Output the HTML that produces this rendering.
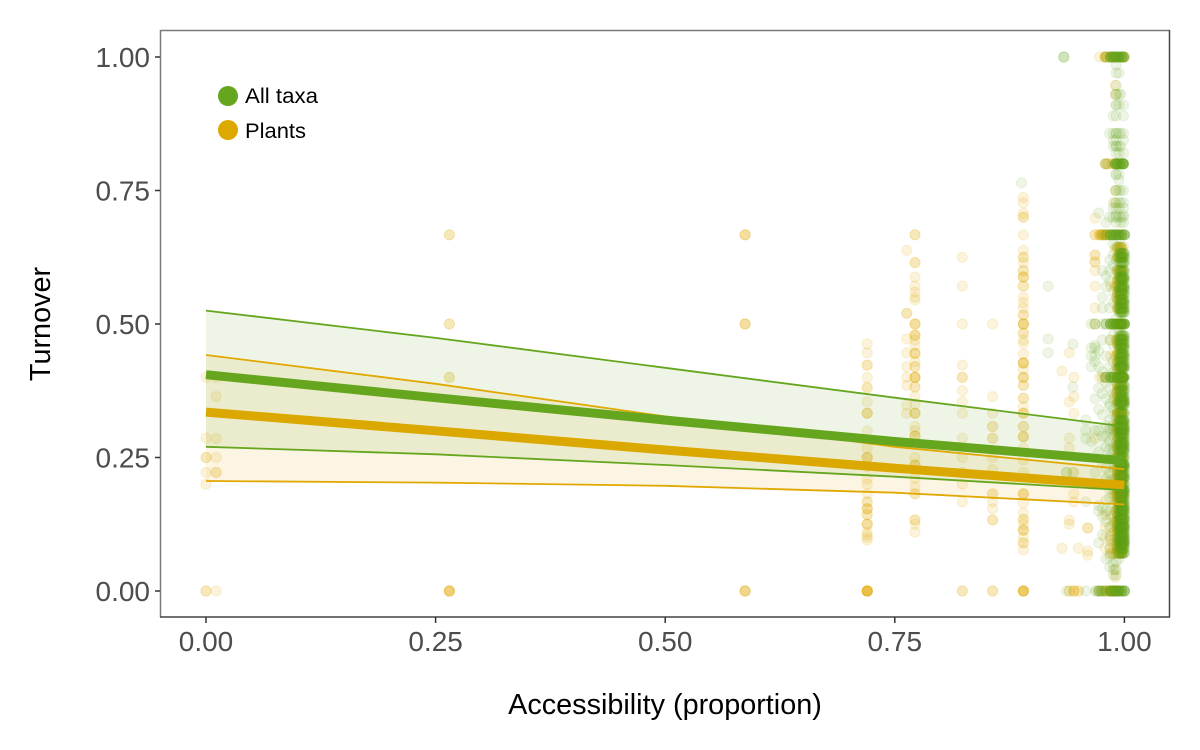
<!DOCTYPE html>
<html lang="en">
<head>
<meta charset="utf-8">
<title>Turnover vs Accessibility</title>
<style>
html,body{margin:0;padding:0;background:#fff}
svg{display:block;font-family:"Liberation Sans",Arial,sans-serif}
</style>
</head>
<body>
<svg id="chart" xmlns="http://www.w3.org/2000/svg" width="1200" height="750" viewBox="0 0 1200 750">
  <rect x="0" y="0" width="1200" height="750" fill="#fff"/>
  <g id="points-plants"></g>
  <g id="points-all"></g>
  <g id="fits"></g>
  <line x1="160.5" y1="30.5" x2="1169.5" y2="30.5" stroke="#7a7a7a" stroke-width="1.5"/>
  <line x1="160.5" y1="30" x2="160.5" y2="617" stroke="#7a7a7a" stroke-width="1.5"/>
  <line x1="1169.5" y1="30" x2="1169.5" y2="617" stroke="#444" stroke-width="1.5"/>
  <line x1="160" y1="617" x2="1170" y2="617" stroke="#444" stroke-width="1.5"/>
  <g id="x-axis"></g>
  <g id="y-axis"></g>
  <text x="665" y="714" font-size="28.8" text-anchor="middle" fill="#000">Accessibility (proportion)</text>
  <text transform="translate(50,324) rotate(-90)" font-size="28.8" text-anchor="middle" fill="#000">Turnover</text>
  <g>
    <circle cx="228" cy="96" r="10" fill="#66a61e"/>
    <text x="245" y="103" font-size="21" textLength="73" lengthAdjust="spacingAndGlyphs" fill="#000">All taxa</text>
    <circle cx="228" cy="130" r="10" fill="#dda800"/>
    <text x="245" y="138" font-size="21" textLength="61" lengthAdjust="spacingAndGlyphs" fill="#000">Plants</text>
  </g>
</svg>
<script>
// ---- tick labels ----
const xTicks = ["0.00", "0.25", "0.50", "0.75", "1.00"];
const yTicks = ["0.00", "0.25", "0.50", "0.75", "1.00"];

// ---- fitted lines (values at fitX) ----
const fitX = [0, 0.25, 0.5, 0.75, 1];
const allTaxaMean = [0.405, 0.362, 0.32, 0.28, 0.244];
const allTaxaUpper = [0.525, 0.474, 0.418, 0.362, 0.308];
const allTaxaLower = [0.27, 0.256, 0.236, 0.214, 0.189];
const plantsMean = [0.335, 0.3, 0.264, 0.23, 0.198];
const plantsUpper = [0.442, 0.388, 0.327, 0.27, 0.228];
const plantsLower = [0.206, 0.203, 0.197, 0.184, 0.162];

// ---- plants observations: [accessibility, [turnover values]] ----
const plantsColumns = [
  [0.0, [0,0,0.2,0.222,0.25,0.25,0.286,0.4]],
  [0.011, [0,0.222,0.222,0.25,0.286,0.364,0.4]],
  [0.265, [0,0,0,0,0,0.4,0.4,0.5,0.5,0.667,0.667]],
  [0.587, [0,0,0,0,0.5,0.5,0.5,0.667,0.667,0.667]],
  [0.72, [0,0,0,0,0,0,0,0,0.095,0.1,0.105,0.11,0.125,0.125,0.125,0.143,0.143,0.154,0.154,0.154,0.167,0.167,0.182,0.2,0.21,0.233,0.25,0.25,0.25,0.268,0.3,0.333,0.333,0.333,0.354,0.38,0.382,0.4,0.423,0.423,0.446,0.4625]],
  [0.772, [0.11,0.125,0.133,0.133,0.182,0.182,0.195,0.211,0.236,0.236,0.236,0.25,0.29,0.29,0.29,0.3,0.308,0.333,0.333,0.333,0.35,0.364,0.382,0.382,0.4,0.4,0.4,0.4,0.42,0.42,0.43,0.445,0.445,0.445,0.46,0.47,0.479,0.479,0.479,0.5,0.5,0.5,0.545,0.55,0.56,0.571,0.588,0.615,0.615,0.667,0.667]],
  [0.763, [0.333,0.348,0.385,0.4,0.42,0.446,0.472,0.52,0.52,0.638]],
  [0.8235, [0,0,0.167,0.2,0.222,0.25,0.286,0.333,0.354,0.375,0.4,0.4,0.423,0.5,0.571,0.625]],
  [0.8565, [0,0,0.133,0.133,0.154,0.167,0.182,0.182,0.227,0.25,0.286,0.286,0.308,0.308,0.333,0.364,0.5]],
  [0.89, [0,0,0,0,0,0,0.077,0.09,0.09,0.1,0.114,0.114,0.114,0.125,0.134,0.134,0.146,0.165,0.182,0.182,0.182,0.222,0.245,0.268,0.289,0.289,0.289,0.308,0.308,0.333,0.333,0.333,0.345,0.361,0.361,0.385,0.385,0.4,0.4,0.4,0.415,0.427,0.427,0.427,0.427,0.444,0.464,0.47,0.483,0.483,0.5,0.5,0.5,0.5,0.517,0.517,0.53,0.54,0.55,0.571,0.571,0.588,0.588,0.588,0.6,0.6,0.615,0.625,0.625,0.638,0.667,0.7,0.7,0.707,0.727,0.737]],
  [0.932, [0.08,0.412]],
  [0.94, [0,0,0.125,0.133,0.268,0.286,0.354,0.446]],
  [0.945, [0,0,0,0.167,0.182,0.222,0.333,0.364,0.4]],
  [0.95, [0,0,0.08]],
  [0.96, [0.067,0.075,0.118,0.118]],
  [0.968, [0.2,0.286,0.5,0.53,0.571,0.6,0.616,0.616,0.629,0.629,0.667,0.667,0.698]],
  [0.973, [0,0,0.667,0.667,0.667,1,0.4]],
  [0.979, [0,0,0,0.4,0.4,0.8,0.8,0.1,0.12,0.143,0.08,1,1,1]],
  [0.985, [0,0,0,0.07,0.07,0.08,0.095,0.47,0.44,0.571,0.5,0.2,0.14,0.12,0.103]],
  [0.99, [0.026,0.04,0.07,0.09,0.111,0.13,0.15,0.18,0.25,0.3,0.364,0.44,0.571,0.64,0.727,0.75,0.93,0.947]]
];
const plantsDenseX = [0.9925, 0.995, 0.997];
const plantsDenseY = [0.643,0.625,0.6,0.583,0.571,0.556,0.545,0.529,0.5,0.5,0.471,0.462,0.444,0.429,0.417,0.4,0.4,0.385,0.375,0.364,0.353,0.333,0.333,0.316,0.308,0.3,0.286,0.273,0.267,0.25,0.25,0.231,0.222,0.214,0.2,0.2,0.188,0.182,0.176,0.167,0.154,0.143,0.133,0.125,0.118,0.111,0.1,0.091,0.083,0.077,0.071];
const plantsDenseCopies = 3;
// repeated observations along exact-fraction rows: [turnover, [accessibility values], copies]
const plantsRows = [
  [1, [0.981, 0.985, 0.99, 1], 2],
  [0.8, [0.982, 0.987, 0.992], 2],
  [0.667, [0.975, 0.978, 0.982], 3],
  [0, [0.984, 0.988, 0.99, 0.993], 3]
];

// ---- all taxa observations: [accessibility, [turnover values]] ----
const allTaxaColumns = [
  [0.888, [0.764]],
  [0.917, [0.446,0.472,0.571]],
  [0.934, [1,1,1]],
  [0.937, [0.222,0.222,0]],
  [0.944, [0.222,0.382,0.4625]],
  [0.958, [0,0.286,0.32,0.3,0.167]],
  [0.964, [0.42,0.44,0.455,0.28,0.2,0.5]],
  [0.968, [0.43,0.44,0.455,0.46,0.222,0.36,0.3,0.5,0.5]],
  [0.972, [0.708,0.45,0.42,0.38,0.34,0.3,0.26,0.16,0.15,0.09,0]],
  [0.976, [0,0,0.6,0.55,0.53,0.47,0.41,0.37,0.33,0.29,0.24,0.2,0.155,0.14,0.105,0.667,0.4,0.5]],
  [0.98, [0.8,0.8,0.69,0.667,0.667,0.667,0.59,0.57,0.5,0.5,0.5,0.44,0.4,0.4,0.4,0.39,0.36,0.31,0.29,0.27,0.23,0.21,0.17,0.15,0.13,0.06,0,0,0,1,1]],
  [0.984, [0.857,0.7,0.62,0.6,0.58,0.53,0.47,0.42,0.38,0.35,0.345,0.32,0.305,0.3,0.28,0.265,0.25,0.22,0.205,0.19,0.175,0.15,0.12,0.1,0.08,0.065,0.045]],
  [0.988, [0.89,0.857,0.844,0.833,0.727,0.717,0.7,0.65,0.63,0.61,0.56,0.54,0.48,0.46,0.43,0.41,0.37,0.36,0.34,0.33,0.31,0.3,0.29,0.27,0.26,0.24,0.23,0.21,0.19,0.18,0.16,0.14,0.13,0.11,0.09,0.07,0.05,0.04,0.03]],
  [0.991, [0.985,0.97,0.947,0.93,0.93,0.91,0.91,0.89,0.857,0.857,0.844,0.833,0.833,0.82,0.78,0.78,0.75,0.75,0.727,0.717,0.704,0.7,0.69,0.645,0.62,0.6,0.57,0.55,0.51,0.47,0.44,0.42,0.39,0.37,0.35,0.33,0.32,0.3,0.28,0.27,0.25,0.23,0.21,0.2,0.18,0.17,0.15,0.13,0.12,0.1,0.085,0.07,0.055,0.04,0.03]],
  [0.994, [0.97,0.93,0.91,0.857,0.833,0.82,0.78,0.77,0.75,0.727,0.717,0.7,0.645,0.63,0.59,0.56,0.53,0.49,0.46,0.43,0.41,0.38,0.35,0.32,0.29,0.26,0.24,0.21,0.19,0.16,0.14,0.11,0.09,0.07,0.06]],
  [0.996, [0.93,0.857,0.833,0.75,0.727,0.7,0.69,0.645]],
  [0.999, [0.91,0.89,0.857,0.844,0.82,0.75,0.727,0.717,0.704,0.7,0.69,0.645]]
];
const allTaxaDenseX = [0.9945, 0.996, 0.997, 0.998, 0.999, 1];
const allTaxaDenseY = [0.632,0.625,0.615,0.6,0.588,0.583,0.571,0.565,0.556,0.545,0.538,0.529,0.522,0.5,0.478,0.471,0.462,0.455,0.444,0.438,0.429,0.421,0.417,0.4,0.385,0.375,0.364,0.357,0.353,0.348,0.333,0.32,0.316,0.308,0.304,0.3,0.294,0.286,0.278,0.273,0.267,0.261,0.25,0.238,0.235,0.231,0.222,0.214,0.211,0.2,0.19,0.188,0.182,0.176,0.167,0.16,0.154,0.15,0.143,0.136,0.133,0.125,0.12,0.118,0.111,0.105,0.1,0.095,0.091,0.087,0.08,0.071];
const allTaxaDenseCopies = 2;
const allTaxaRows = [
  [1, [0.985, 0.988, 0.991, 0.994, 0.997, 0.999], 6],
  [0.8, [0.99, 0.992, 0.995, 0.998, 0.999], 6],
  [0.667, [0.985, 0.988, 0.991, 0.994, 0.997, 1], 6],
  [0.5, [0.985, 0.988, 0.991, 0.994, 0.997, 1], 6],
  [0.4, [0.985, 0.988, 0.992, 0.995, 0.998, 0.999], 6],
  [0, [0.985, 0.988, 0.991, 0.994, 0.997, 1], 6],
  [0, [0.969, 0.972, 0.975], 2]
];

// ---- axis functions ----
function xScale(v) { return 206 + v * 918.4; }
function yScale(v) { return 591 - v * 534; }

const NS = "http://www.w3.org/2000/svg";
const GREEN = "#66a61e";
const ORANGE = "#e6ab02";
const DARK_ORANGE = "#e0a800";

function addPoint(parent, x, y, color, op, name) {
  const c = document.createElementNS(NS, "circle");
  
  
  c.setAttribute("cx", xScale(x).toFixed(2));
  c.setAttribute("cy", yScale(y).toFixed(2));
  c.setAttribute("r", "5.1");
  c.setAttribute("fill", color);
  c.setAttribute("fill-opacity", op);
  c.setAttribute("stroke", color);
  c.setAttribute("stroke-opacity", op);
  c.setAttribute("stroke-width", "1");
  parent.appendChild(c);
}

function drawSeries(parent, columns, denseX, denseY, copies, rows, color, op, name) {
  columns.forEach(function (col) {
    col[1].forEach(function (y) { addPoint(parent, col[0], y, color, op, name); });
  });
  denseX.forEach(function (x) {
    denseY.forEach(function (y) {
      for (let i = 0; i < copies; i++) addPoint(parent, x, y, color, op, name);
    });
  });
  rows.forEach(function (row) {
    row[1].forEach(function (x) {
      for (let i = 0; i < row[2]; i++) addPoint(parent, x, row[0], color, op, name);
    });
  });
}

drawSeries(document.getElementById("points-plants"), plantsColumns, plantsDenseX, plantsDenseY, plantsDenseCopies, plantsRows, ORANGE, "0.14", "plants-point");
drawSeries(document.getElementById("points-all"), allTaxaColumns, allTaxaDenseX, allTaxaDenseY, allTaxaDenseCopies, allTaxaRows, GREEN, "0.11", "all-taxa-point");

function linePoints(values) {
  return values.map(function (v, i) { return xScale(fitX[i]).toFixed(1) + "," + yScale(v).toFixed(1); });
}

function drawRibbon(series, upper, lower, color) {
  const g = document.getElementById("fits");
  const rib = document.createElementNS(NS, "polygon");
  
  
  rib.setAttribute("points", linePoints(upper).concat(linePoints(lower).reverse()).join(" "));
  rib.setAttribute("fill", color);
  rib.setAttribute("fill-opacity", "0.11");
  g.appendChild(rib);
}

function drawLines(series, upper, mean, lower, lineColor, meanColor) {
  const g = document.getElementById("fits");
  const up = document.createElementNS(NS, "polyline");
  
  
  up.setAttribute("points", linePoints(upper).join(" "));
  up.setAttribute("fill", "none");
  up.setAttribute("stroke", lineColor);
  up.setAttribute("stroke-width", "1.8");
  g.appendChild(up);

  const low = document.createElementNS(NS, "polyline");
  
  
  low.setAttribute("points", linePoints(lower).join(" "));
  low.setAttribute("fill", "none");
  low.setAttribute("stroke", lineColor);
  low.setAttribute("stroke-width", "1.8");
  g.appendChild(low);

  const m = document.createElementNS(NS, "polyline");
  
  
  m.setAttribute("points", linePoints(mean).join(" "));
  m.setAttribute("fill", "none");
  m.setAttribute("stroke", meanColor);
  m.setAttribute("stroke-width", "9");
  g.appendChild(m);
}

drawRibbon("plants", plantsUpper, plantsLower, DARK_ORANGE);
drawRibbon("all-taxa", allTaxaUpper, allTaxaLower, GREEN);
drawLines("plants", plantsUpper, plantsMean, plantsLower, DARK_ORANGE, "#dba800");
drawLines("all-taxa", allTaxaUpper, allTaxaMean, allTaxaLower, GREEN, "#66a61e");

// ---- axes ----
const xAxis = document.getElementById("x-axis");
xTicks.forEach(function (label) {
  const px = xScale(parseFloat(label));
  const t = document.createElementNS(NS, "line");
  
  
  t.setAttribute("x1", px);
  t.setAttribute("x2", px);
  t.setAttribute("y1", 617);
  t.setAttribute("y2", 623);
  t.setAttribute("stroke", "#333");
  t.setAttribute("stroke-width", "1.5");
  xAxis.appendChild(t);
  const s = document.createElementNS(NS, "text");
  
  
  s.setAttribute("x", px);
  s.setAttribute("y", 651);
  s.setAttribute("font-size", "28");
  s.setAttribute("text-anchor", "middle");
  s.setAttribute("fill", "#4d4d4d");
  s.textContent = label;
  xAxis.appendChild(s);
});

const yAxis = document.getElementById("y-axis");
yTicks.forEach(function (label) {
  const py = yScale(parseFloat(label));
  const t = document.createElementNS(NS, "line");
  
  
  t.setAttribute("x1", 155);
  t.setAttribute("x2", 160);
  t.setAttribute("y1", py);
  t.setAttribute("y2", py);
  t.setAttribute("stroke", "#333");
  t.setAttribute("stroke-width", "1.5");
  yAxis.appendChild(t);
  const s = document.createElementNS(NS, "text");
  
  
  s.setAttribute("x", 150);
  s.setAttribute("y", py + 10);
  s.setAttribute("font-size", "28");
  s.setAttribute("text-anchor", "end");
  s.setAttribute("fill", "#4d4d4d");
  s.textContent = label;
  yAxis.appendChild(s);
});
</script>
</body>
</html>
